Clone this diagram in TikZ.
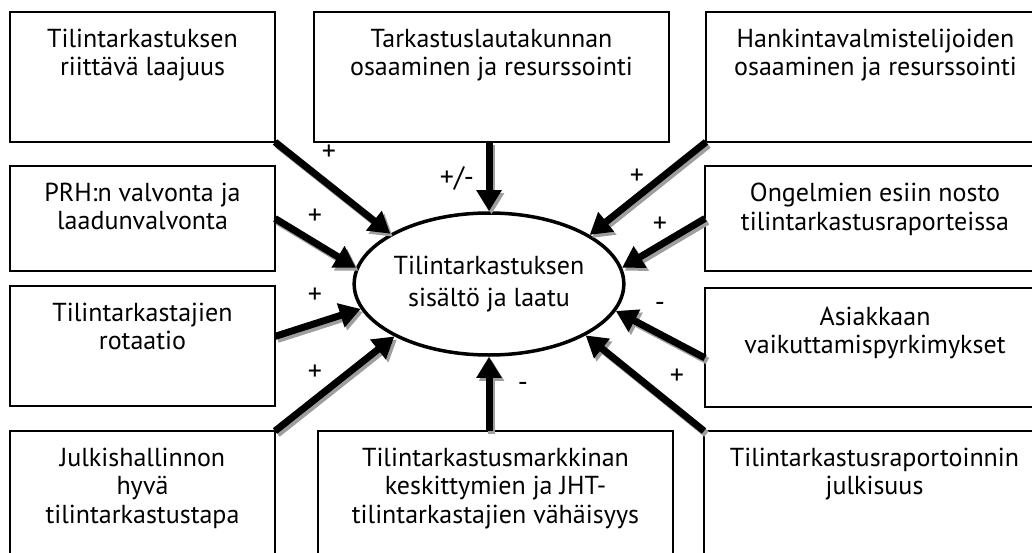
\documentclass[tikz,border=0pt]{standalone}
\usepackage{fontspec}
\setmainfont{PT Sans}
\usetikzlibrary{arrows.meta,shapes.geometric,calc}
\definecolor{shadowgray}{HTML}{9E9E9E}
\begin{document}
\begin{tikzpicture}[x=1pt,y=-1pt,
 box/.style={draw, line width=2.2pt, rectangle, inner sep=0pt, outer sep=0pt, anchor=north west},
 txt/.style={anchor=north, align=center, inner sep=0pt, font=\fontsize{26}{28.3}\selectfont},
 sign/.style={inner sep=0pt, font=\fontsize{28}{28}\selectfont},
 conn/.style={line width=7pt, -{Triangle[length=21pt,width=24pt]},
   preaction={draw=shadowgray, line width=7pt, -{Triangle[length=21pt,width=24pt]},
     transform canvas={shift={(2.5pt,-3pt)}}}},
]
\useasboundingbox (0,0) rectangle (1032,553);
% boxes
\node[box, minimum width=265pt, minimum height=130pt] (b1) at (10,12) {};
\node[box, minimum width=355pt, minimum height=130pt] (b2) at (314,12) {};
\node[box, minimum width=339pt, minimum height=130pt] (b3) at (706,12) {};
\node[box, minimum width=265pt, minimum height=105pt] (b4) at (10,166) {};
\node[box, minimum width=340pt, minimum height=105pt] (b5) at (705,166) {};
\node[box, minimum width=265pt, minimum height=120pt] (b6) at (10,286) {};
\node[box, minimum width=340pt, minimum height=119pt] (b7) at (705,288) {};
\node[box, minimum width=265pt, minimum height=130pt] (b8) at (10,431) {};
\node[box, minimum width=355pt, minimum height=130pt] (b9) at (318,431) {};
\node[box, minimum width=341pt, minimum height=130pt] (b10) at (704,431) {};
% box texts
\node[txt] (t1) at ($(b1.north)+(0,17)$) {Tilintarkastuksen\\riittävä laajuus};
\node[txt] (t2) at ($(b2.north)+(0,17)$) {Tarkastuslautakunnan\\osaaminen ja resurssointi};
\node[txt] (t3) at ($(b3.north)+(0,17)$) {Hankintavalmistelijoiden\\osaaminen ja resurssointi};
\node[txt] (t4) at ($(b4.north)+(0,17)$) {PRH:n valvonta ja\\laadunvalvonta};
\node[txt] (t5) at ($(b5.north)+(0,17)$) {Ongelmien esiin nosto\\tilintarkastusraporteissa};
\node[txt] (t6) at ($(b6.north)+(0,17)$) {Tilintarkastajien\\rotaatio};
\node[txt] (t7) at ($(b7.north)+(0,19)$) {Asiakkaan\\vaikuttamispyrkimykset};
\node[txt] (t8) at ($(b8.north)+(0,17)$) {Julkishallinnon\\hyvä\\tilintarkastustapa};
\node[txt] (t9) at ($(b9.north)+(0,17)$) {Tilintarkastusmarkkinan\\keskittymien ja JHT-\\tilintarkastajien vähäisyys};
\node[txt] (t10) at ($(b10.north)+(0,17)$) {Tilintarkastusraportoinnin\\julkisuus};
% ellipse
\node[ellipse, draw, line width=3.5pt, minimum width=267pt, minimum height=142pt, inner sep=0pt,
  align=center, font=\fontsize{26}{31.5}\selectfont] (e) at (489,284) {Tilintarkastuksen\\sisältö ja laatu};
% connectors
\draw[conn] (b1.south east) -- (e.153);
\draw[conn] (b4.east) -- (e.173);
\draw[conn] ($(b6.north east)!0.42!(b6.south east)$) -- (e.191);
\draw[conn] (b8.north east) -- (e.209);
\draw[conn] (e.north |- b2.south) -- (e.north);
\draw[conn] (e.south |- b9.north) -- (e.south);
\draw[conn] (b3.south west) -- (e.26);
\draw[conn] (b5.west) -- (e.7.5);
\draw[conn] ($(b7.north west)!0.588!(b7.south west)$) -- (e.-12.6);
\draw[conn] (b10.north west) -- (e.-28);
% signs
\node[sign] (s1) at (329,153) {+};
\node[sign] (s2) at (457,178) {+/-};
\node[sign] (s3) at (315,217) {+};
\node[sign] (s4) at (315,296) {+};
\node[sign] (s5) at (315,373) {+};
\node[sign] (s6) at (523,387) {-};
\node[sign] (s7) at (637,177) {+};
\node[sign] (s8) at (660,225) {+};
\node[sign] (s9) at (660,307) {-};
\node[sign] (s10) at (677,377) {+};
\end{tikzpicture}
\end{document}
